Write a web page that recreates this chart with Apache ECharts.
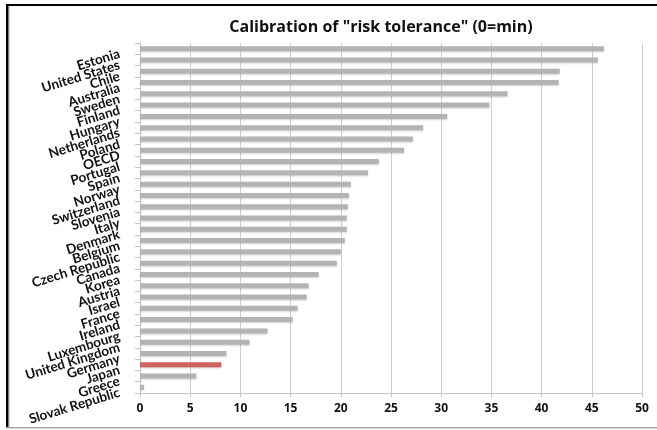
<!DOCTYPE html>
<html>
<head>
<meta charset="utf-8">
<script src="https://cdn.jsdelivr.net/npm/echarts@6/dist/echarts.min.js"></script>
<style>
  html, body { margin: 0; padding: 0; background: #fff; }
  #chart { width: 657px; height: 430px; }
</style>
</head>
<body>
<div id="chart"></div>
<script>
  // countries, top to bottom as in the picture
  var countries = ['Estonia', 'United States', 'Chile', 'Australia', 'Sweden', 'Finland',
    'Hungary', 'Netherlands', 'Poland', 'OECD', 'Portugal', 'Spain', 'Norway', 'Switzerland',
    'Slovenia', 'Italy', 'Denmark', 'Belgium', 'Czech Republic', 'Canada', 'Korea', 'Austria',
    'Israel', 'France', 'Ireland', 'Luxembourg', 'United Kingdom', 'Germany', 'Japan',
    'Greece', 'Slovak Republic'];
  var tolerance = [46.2, 45.6, 41.8, 41.7, 36.6, 34.8, 30.6, 28.2, 27.2, 26.3, 23.8, 22.7,
    21.0, 20.8, 20.7, 20.6, 20.6, 20.4, 20.0, 19.6, 17.8, 16.8, 16.6, 15.7, 15.2, 12.7,
    10.9, 8.6, 8.1, 5.6, 0.4];
  var highlighted = 'Japan'; // the red bar
  var xTicks = [0, 5, 10, 15, 20, 25, 30, 35, 40, 45, 50];

  var chart = echarts.init(document.getElementById('chart'));
  var barData = tolerance.map(function (v, i) {
    return {
      value: v,
      itemStyle: { color: countries[i] == highlighted ? '#d0625f' : '#b4b4b4' }
    };
  });

  chart.setOption({
    backgroundColor: '#fff',
    animation: false,
    title: {
      text: 'Calibration of "risk tolerance" (0=min)',
      left: 376,
      top: 14,
      textAlign: 'center',
      textStyle: { fontFamily: 'Open Sans', fontWeight: 'bold', fontSize: 16, color: '#111' }
    },
    grid: { left: 140, right: 15, top: 43, bottom: 37 },
    xAxis: {
      type: 'value',
      min: xTicks[0],
      max: xTicks[xTicks.length - 1],
      interval: 5,
      axisLine: { show: true, lineStyle: { color: '#c4c4c4', width: 1 } },
      axisTick: { show: true, length: 4, lineStyle: { color: '#c4c4c4' } },
      splitLine: { show: true, lineStyle: { color: '#cfcfcf', width: 1 } },
      axisLabel: {
        margin: 10,
        fontFamily: 'Open Sans', fontWeight: 'bold', fontSize: 12, color: '#111'
      }
    },
    yAxis: {
      type: 'category',
      inverse: true,
      data: countries,
      axisLine: { show: true, lineStyle: { color: '#c4c4c4', width: 1 } },
      axisTick: { show: true, length: 5, lineStyle: { color: '#c4c4c4' } },
      axisLabel: {
        interval: 0,
        rotate: 17,
        margin: 22,
        verticalAlign: 'top',
        lineHeight: 10,
        fontFamily: 'Lato', fontWeight: 'bold', fontSize: 13.5, color: '#111'
      }
    },
    series: [{
      type: 'bar',
      data: barData,
      barWidth: 5,
      itemStyle: { shadowBlur: 2, shadowColor: 'rgba(0,0,0,0.18)', shadowOffsetY: 1 }
    }],
    graphic: [
      { type: 'rect', shape: { x: 6, y: 4, width: 651, height: 2 }, style: { fill: '#000' } },
      { type: 'rect', shape: { x: 6, y: 4, width: 2.5, height: 424 }, style: { fill: '#000' } },
      { type: 'rect', shape: { x: 9, y: 6, width: 1, height: 421 }, style: { fill: '#d8d8d8' } },
      { type: 'rect', shape: { x: 6, y: 427, width: 651, height: 1.5 }, style: { fill: '#a8a8a8' } }
    ]
  });
</script>
</body>
</html>
